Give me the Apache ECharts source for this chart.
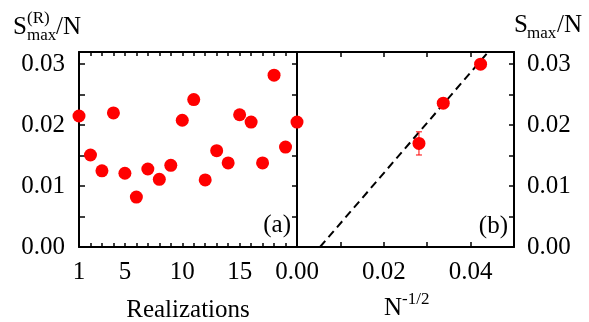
<!DOCTYPE html>
<html>
<head>
<meta charset="utf-8">
<script src="https://cdn.jsdelivr.net/npm/echarts@6/dist/echarts.min.js"></script>
<style>html,body{margin:0;padding:0;background:#fff}#c{width:589px;height:322px}</style>
</head>
<body>
<div id="c"></div>
<script>
// Panel (a): S_max^(R)/N per realization
const realizations = [1,2,3,4,5,6,7,8,9,10,11,12,13,14,15,16,17,18,19,20];
const smaxR = [0.0215,0.0151,0.0125,0.0220,0.0121,0.0082,0.0128,0.0111,0.0134,0.0208,
               0.0242,0.0110,0.0158,0.0138,0.0217,0.0205,0.0138,0.0282,0.0164,0.0205];
const realTickLabels = [1,5,10,15];
// Panel (b): S_max/N vs N^-1/2
const invSqrtN = [0.0281,0.0337,0.0423];
const smax = [0.0170,0.0236,0.0300];
const smaxErr = [0.0019,0.0004,0.0004];
const fitX = [0.0053,0.0500];
const fitY = [0.0000,0.0369];
const yTickLabels = [0.00,0.01,0.02,0.03];
const bTickLabels = [0.00,0.02,0.04];

const FONT = 'Liberation Serif';
const LBL = {fontFamily: FONT, fontSize: 25, color: '#000'};
const line = {show: true, onZero: false, lineStyle: {color: '#000', width: 2}};
const near = (v, arr) => arr.some(a => Math.abs(a - v) < 1e-7);

function ax(extra) {
  return Object.assign({
    type: 'value', axisLine: line, splitLine: {show: false},
    axisTick: {show: true, inside: true, length: 5, lineStyle: {color: '#000', width: 1.5}},
    axisLabel: {show: false}
  }, extra);
}

const chart = echarts.init(document.getElementById('c'), null, {renderer: 'canvas'});
chart.setOption({
  animation: false,
  grid: [
    {left: 79, right: 292, top: 52, bottom: 75, outerBoundsMode: 'none'},
    {left: 297, right: 75, top: 52, bottom: 75, outerBoundsMode: 'none'}
  ],
  xAxis: [
    ax({gridIndex: 0, position: 'bottom', min: 1, max: 20, interval: 1,
        axisTick: {show: true, inside: true, length: 4, lineStyle: {color: '#000', width: 1.5}},
        axisLabel: Object.assign({show: true, margin: 13, formatter: v => near(v, realTickLabels) ? String(v) : ''}, LBL)}),
    ax({gridIndex: 0, position: 'top', min: 1, max: 20, interval: 1,
        axisTick: {show: true, inside: true, length: 4, lineStyle: {color: '#000', width: 1.5}}}),
    ax({gridIndex: 1, position: 'bottom', min: 0, max: 0.05, interval: 0.01,
        axisLabel: Object.assign({show: true, margin: 13, formatter: v => near(v, bTickLabels) ? v.toFixed(2) : ''}, LBL)}),
    ax({gridIndex: 1, position: 'top', min: 0, max: 0.05, interval: 0.01})
  ],
  yAxis: [
    ax({gridIndex: 0, position: 'left', min: 0, max: 0.032, interval: 0.005,
        axisTick: {show: true, inside: true, length: 6, lineStyle: {color: '#000', width: 1.5}},
        axisLabel: Object.assign({show: true, margin: 14, formatter: v => near(v, yTickLabels) ? v.toFixed(2) : ''}, LBL)}),
    ax({gridIndex: 0, position: 'right', min: 0, max: 0.032, interval: 0.005,
        axisTick: {show: true, inside: true, length: 5, lineStyle: {color: '#000', width: 1.5}}}),
    ax({gridIndex: 1, position: 'left', min: 0, max: 0.032, interval: 0.005, axisTick: {show: false}}),
    ax({gridIndex: 1, position: 'right', min: 0, max: 0.032, interval: 0.005,
        axisLabel: Object.assign({show: true, margin: 13, formatter: v => near(v, yTickLabels) ? v.toFixed(2) : ''}, LBL)})
  ],
  series: [
    {type: 'scatter', xAxisIndex: 0, yAxisIndex: 0, symbol: 'circle', symbolSize: 13, clip: false, z: 5,
     itemStyle: {color: '#ff0000', opacity: 1},
     data: realizations.map((r, i) => [r, smaxR[i]])},
    {type: 'line', xAxisIndex: 2, yAxisIndex: 3, symbol: 'none', clip: true, z: 3,
     lineStyle: {color: '#000', width: 2, type: [8, 5]},
     data: fitX.map((x, i) => [x, fitY[i]])},
    {type: 'custom', xAxisIndex: 2, yAxisIndex: 3, z: 4, clip: false,
     data: invSqrtN.map((x, i) => [x, smax[i], smaxErr[i]]),
     renderItem: function (params, api) {
       const x = api.value(0), y = api.value(1), e = api.value(2);
       const top = api.coord([x, y + e]), bot = api.coord([x, y - e]);
       const st = {stroke: '#ff0000', lineWidth: 1};
       return {type: 'group', children: [
         {type: 'line', shape: {x1: top[0], y1: top[1], x2: bot[0], y2: bot[1]}, style: st},
         {type: 'line', shape: {x1: top[0] - 3, y1: top[1], x2: top[0] + 3, y2: top[1]}, style: st},
         {type: 'line', shape: {x1: bot[0] - 3, y1: bot[1], x2: bot[0] + 3, y2: bot[1]}, style: st}
       ]};
     }},
    {type: 'scatter', xAxisIndex: 2, yAxisIndex: 3, symbol: 'circle', symbolSize: 13, clip: false, z: 5,
     itemStyle: {color: '#ff0000', opacity: 1},
     data: invSqrtN.map((x, i) => [x, smax[i]])}
  ],
  graphic: [
    {type: 'text', style: {text: 'S', x: 13, y: 27, font: '25px ' + FONT, fill: '#000', verticalAlign: 'middle'}},
    {type: 'text', style: {text: '(R)', x: 27, y: 19, font: '17px ' + FONT, fill: '#000', verticalAlign: 'middle'}},
    {type: 'text', style: {text: 'max', x: 27, y: 36, font: '17px ' + FONT, fill: '#000', verticalAlign: 'middle'}},
    {type: 'text', style: {text: '/N', x: 56, y: 27, font: '25px ' + FONT, fill: '#000', verticalAlign: 'middle'}},
    {type: 'text', style: {text: 'S', x: 514, y: 25, font: '25px ' + FONT, fill: '#000', verticalAlign: 'middle'}},
    {type: 'text', style: {text: 'max', x: 527, y: 34, font: '17px ' + FONT, fill: '#000', verticalAlign: 'middle'}},
    {type: 'text', style: {text: '/N', x: 557, y: 25, font: '25px ' + FONT, fill: '#000', verticalAlign: 'middle'}},
    {type: 'text', style: {text: 'Realizations', x: 188, y: 310, font: '25px ' + FONT, fill: '#000', align: 'center', verticalAlign: 'middle'}},
    {type: 'text', style: {text: 'N', x: 384, y: 308, font: '25px ' + FONT, fill: '#000', verticalAlign: 'middle'}},
    {type: 'text', style: {text: '-1/2', x: 402, y: 300, font: '17px ' + FONT, fill: '#000', verticalAlign: 'middle'}},
    {type: 'text', style: {text: '(a)', x: 291, y: 225, font: '25px ' + FONT, fill: '#000', align: 'right', verticalAlign: 'middle'}},
    {type: 'text', style: {text: '(b)', x: 508, y: 226, font: '25px ' + FONT, fill: '#000', align: 'right', verticalAlign: 'middle'}}
  ]
});
</script>
</body>
</html>
